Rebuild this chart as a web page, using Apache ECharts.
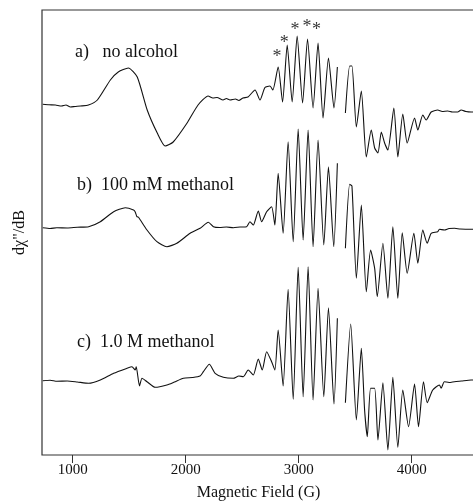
<!DOCTYPE html>
<html>
<head>
<meta charset="utf-8">
<script src="https://cdn.jsdelivr.net/npm/echarts@6/dist/echarts.min.js"></script>
<style>
  html, body { margin: 0; padding: 0; background: #fff; }
  #chart { width: 473px; height: 502px; }
</style>
</head>
<body>
<div id="chart"></div>
<script>
// EPR derivative spectra, dχ"/dB (arbitrary units relative to each baseline)
// versus magnetic field in gauss. null marks the excised region of each sweep.
const fieldTicks = [1000, 2000, 3000, 4000];

const noAlcohol = [
  [735, 0.7], [790, 0.2], [847, 0], [900, -1], [940, 0], [980, -2], [1020, -1.5], [1068, -1],
  [1139, 0], [1218, 5], [1333, 25], [1403, 33], [1492, 37], [1571, 28], [1659, -5],
  [1748, -28], [1818, -41], [1889, -37], [2012, -18], [2109, 0], [2198, 9], [2240, 7],
  [2277, 7.5], [2330, 5], [2360, 6.5], [2392, 5], [2440, 6], [2470, 4.5], [2507, 7],
  [2551, 8], [2613, 15], [2657, 5], [2701, 17.5], [2745, 19], [2771, 15], [2818, 38],
  [2857, 3], [2898, 60], [2942, 3], [2986, 69], [3034, 2], [3078, 66], [3127, -3], [3171, 62],
  [3215, -13], [3263, 47], [3312, -3], [3342, 38], [3380, null], [3413, -8], [3451, 39],
  [3471, 39], [3510, -22], [3554, 14], [3598, -52], [3642, -25], [3672, -43], [3701, -48],
  [3731, -27], [3760, -38], [3789, -45], [3842, -3], [3877, -52], [3921, -9], [3960, -38],
  [4025, -13], [4054, -25], [4098, -10], [4128, -15], [4172, -7], [4230, -5], [4270, -6.5],
  [4319, -6], [4360, -7], [4407, -7], [4437, -5], [4480, -6.5], [4525, -7], [4560, -7]
];

const methanol100mM = [
  [735, 0.3], [800, -0.5], [860, 0.3], [951, 0], [1040, 0.8], [1141, 1.3], [1244, 6.3],
  [1362, 16.3], [1465, 20.3], [1538, 18], [1553, 16], [1568, 11.3], [1580, 11], [1657, -2],
  [1745, -13.7], [1833, -18.7], [1921, -15.3], [2039, -5.3], [2127, -0.3], [2200, 5.7],
  [2245, 1.3], [2300, 0.5], [2360, 1], [2421, 0.3], [2480, 1], [2539, 1.3], [2568, 6.3],
  [2598, 3], [2642, 17], [2672, 6.3], [2716, 16.3], [2760, 21.3], [2789, 3], [2818, 54.7],
  [2862, -5.3], [2906, 86.3], [2951, -13.7], [2995, 99], [3039, -12], [3083, 98], [3127, -18.7],
  [3171, 88], [3222, -17], [3263, 61.3], [3310, -18.7], [3342, 64.7], [3380, null],
  [3413, -20.3], [3451, 43.7], [3471, 42], [3510, -50.3], [3554, 23], [3598, -63.7],
  [3636, -22], [3672, -40.3], [3695, -68.7], [3745, -15.3], [3789, -70.3], [3833, 1.3],
  [3877, -70.3], [3916, -4.7], [3960, -45.3], [4019, -5.3], [4054, -35.3], [4098, -2],
  [4137, -15.3], [4172, -5.3], [4230, -3.7], [4245, -1.3], [4289, -2], [4330, -0.5],
  [4378, -0.3], [4430, -1], [4525, -1.3], [4560, -1]
];

const methanol1M = [
  [735, 0.3], [800, 0.8], [860, -0.3], [951, 0], [1040, -1], [1141, -2.3], [1244, 1],
  [1362, 7.7], [1480, 12.7], [1524, 14.3], [1553, 11], [1562, 14.3], [1591, -5], [1613, 2.7],
  [1657, -0.7], [1730, -6.3], [1833, -4], [1900, -1], [1980, 2.7], [2060, 3.5], [2127, 5],
  [2156, 9.3], [2209, 16.7], [2260, 7.7], [2333, 3.7], [2421, 2.7], [2470, 5], [2509, 4.3],
  [2553, 11], [2598, 6], [2642, 22], [2677, 11], [2716, 29.3], [2760, 19.3], [2789, 11],
  [2818, 51], [2862, -5], [2906, 91.7], [2951, -18.3], [2995, 113.7], [3039, -15.7],
  [3083, 114.3], [3127, -19], [3171, 92.7], [3222, -15.7], [3263, 73.3], [3312, -23],
  [3342, 62.7], [3380, null], [3413, -21.7], [3460, 57], [3510, -39], [3554, 32.7],
  [3583, -29], [3607, -55.7], [3636, -7.3], [3672, -7.3], [3701, -59], [3745, -1.7],
  [3789, -69], [3833, 3.7], [3877, -66.3], [3921, -9], [3972, -45.7], [4025, -3],
  [4060, -45.7], [4104, -0.7], [4137, -21.7], [4186, -9], [4245, -4], [4260, -7.3],
  [4289, -0.7], [4330, -1.5], [4378, -0.7], [4440, 0], [4525, 1], [4560, 1]
];

// Starred hyperfine lines above the first spectrum: [field, height on the plot scale]
const starMarks = [[2808, 402], [2871, 416], [2966, 429], [3074, 432], [3157, 429]];

const traceLabels = ['a)   no alcohol', 'b)  100 mM methanol', 'c)  1.0 M methanol'];

// vertical stacking of the three spectra on a shared axis
const stackOffset = [350, 227, 74];
const traces = [noAlcohol, methanol100mM, methanol1M];

const FONT = '"Liberation Serif", "DejaVu Serif", serif';
const INK = '#111';

const chart = echarts.init(document.getElementById('chart'), null, { renderer: 'canvas' });

const lineSeries = traces.map((trace, i) => ({
  type: 'line',
  name: traceLabels[i],
  data: trace.map(([b, v]) => [b, v === null ? '-' : v + stackOffset[i]]),
  showSymbol: false,
  smooth: 0.2,
  connectNulls: false,
  lineStyle: { color: INK, width: 1.1 },
  silent: true,
  animation: false
}));

const starSeries = {
  type: 'scatter',
  data: starMarks,
  symbolSize: 0,
  silent: true,
  animation: false,
  itemStyle: { color: INK },
  label: {
    show: true,
    position: 'inside',
    formatter: '*',
    color: '#000',
    fontFamily: FONT,
    fontSize: 18,
    offset: [0, 4]
  }
};

const labelTops = [53, 186, 343];
const labelLefts = [75, 77, 77];

chart.setOption({
  animation: false,
  backgroundColor: '#fff',
  grid: {
    left: 42, top: 10, right: -2, bottom: 47,
    outerBoundsMode: 'none',
    containLabel: false,
    show: true, borderColor: '#333', borderWidth: 1.2, backgroundColor: 'transparent'
  },
  xAxis: {
    type: 'value',
    min: 728, max: 4560,
    name: 'Magnetic Field (G)',
    nameLocation: 'middle',
    nameGap: 30,
    nameTextStyle: { fontFamily: FONT, fontSize: 16, color: INK },
    axisLine: { show: false },
    splitLine: { show: false },
    axisTick: {
      show: true, inside: false, length: 8,
      customValues: fieldTicks,
      lineStyle: { color: '#333', width: 1 }
    },
    axisLabel: {
      customValues: fieldTicks,
      formatter: v => String(v),
      margin: 8,
      fontFamily: FONT, fontSize: 15, color: INK
    }
  },
  yAxis: {
    type: 'value',
    min: 0, max: 445,
    name: 'dχ"/dB',
    nameLocation: 'middle',
    nameGap: 14,
    nameTextStyle: { fontFamily: FONT, fontSize: 16, color: INK },
    axisLine: { show: false },
    axisTick: { show: false },
    axisLabel: { show: false },
    splitLine: { show: false }
  },
  graphic: traceLabels.map((t, i) => ({
    type: 'text',
    left: labelLefts[i],
    top: labelTops[i] - 10,
    silent: true,
    style: { text: t, fontFamily: FONT, fontSize: 18, fill: INK }
  })),
  series: [...lineSeries, starSeries]
});
</script>
</body>
</html>
